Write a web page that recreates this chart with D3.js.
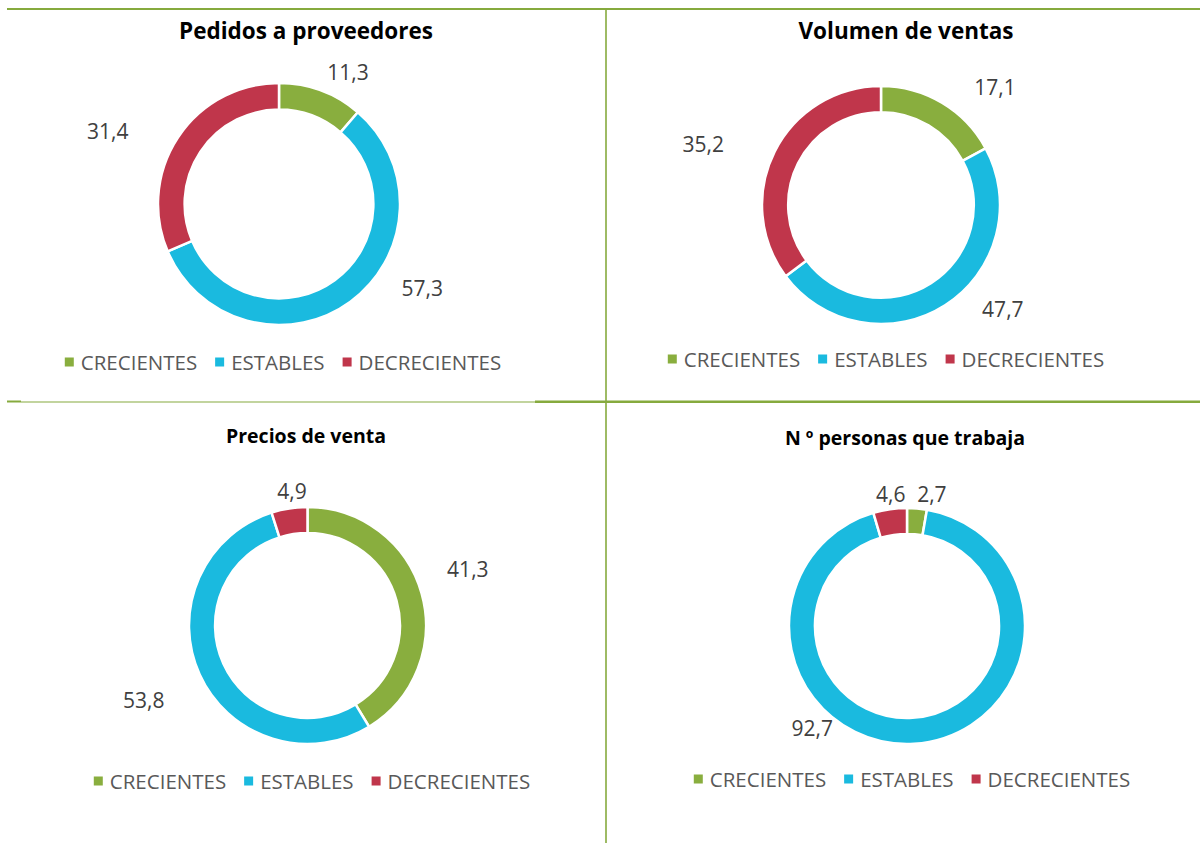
<!DOCTYPE html>
<html>
<head>
<meta charset="utf-8">
<script src="https://cdn.jsdelivr.net/npm/d3@7"></script>
<style>
  body { margin: 0; background: #fff; }
  text { font-family: "Open Sans", "Noto Sans", sans-serif; }
</style>
</head>
<body>
<script>
// data
const categories = ["CRECIENTES", "ESTABLES", "DECRECIENTES"];
const titles = ["Pedidos a proveedores", "Volumen de ventas", "Precios de venta", "N º personas que trabaja"];
const pedidos = [11.3, 57.3, 31.4];
const volumen = [17.1, 47.7, 35.2];
const precios = [41.3, 53.8, 4.9];
const personas = [2.7, 92.7, 4.6];

const colors = ["#89AE3E", "#1ABADF", "#C0364B"];
const lineColor = "#86AA3E";

const width = 1200, height = 843;

// layout of each panel (label spots are [angle in degrees, distance from centre])
const panels = [
  { values: pedidos, cx: 279, cy: 204, r: 121, tx: 306, ty: 30, ts: 22.5, lx: 283, ly: 362,
    spots: [[27.6, 149], [120.4, 166], [293, 186]] },
  { values: volumen, cx: 881, cy: 205, r: 119, tx: 906, ty: 30, ts: 22.5, lx: 886, ly: 359,
    spots: [[44, 164], [130.4, 160], [289, 188]] },
  { values: precios, cx: 307.5, cy: 625.5, r: 118.5, tx: 306, ty: 435, ts: 19.5, lx: 312, ly: 781,
    spots: [[70.6, 170], [245.5, 180], [353.4, 135]] },
  { values: personas, cx: 907, cy: 626, r: 118, tx: 905, ty: 437, ts: 19.5, lx: 912, ly: 779,
    spots: [[10.7, 134], [223, 139], [353, 133]] }
];

const svg = d3.select("body")
  .append("svg")
  .attr("width", width)
  .attr("height", height);

// frame lines
svg.append("line")
  .attr("x1", 7).attr("x2", width).attr("y1", 9).attr("y2", 9)
  .attr("stroke", lineColor).attr("stroke-width", 2);
svg.append("line")
  .attr("x1", 606).attr("x2", 606).attr("y1", 9).attr("y2", height)
  .attr("stroke", lineColor).attr("stroke-width", 1.6);
svg.append("line")
  .attr("x1", 7).attr("x2", 21).attr("y1", 401.5).attr("y2", 401.5)
  .attr("stroke", lineColor).attr("stroke-width", 2);
svg.append("line")
  .attr("x1", 21).attr("x2", 535).attr("y1", 402).attr("y2", 402)
  .attr("stroke", lineColor).attr("stroke-width", 1.2);
svg.append("line")
  .attr("x1", 535).attr("x2", width).attr("y1", 401.8).attr("y2", 401.8)
  .attr("stroke", lineColor).attr("stroke-width", 2.4);

const pie = d3.pie().sort(null).value(d => d);

panels.forEach((p, i) => {
  const g = svg.append("g").attr("transform", `translate(${p.cx},${p.cy})`);

  const arc = d3.arc().innerRadius(p.r * 0.78).outerRadius(p.r);
  const arcs = pie(p.values);

  g.selectAll("path")
    .data(arcs)
    .join("path")
    .attr("d", arc)
    .attr("fill", (d, j) => colors[j])
    .attr("stroke", "#fff")
    .attr("stroke-width", 2.5);

  // value labels
  g.selectAll("text.val")
    .data(arcs)
    .join("text")
    .attr("class", "val")
    .attr("transform", (d, j) => {
      const s = p.spots[j];
      const a = s[0] * Math.PI / 180;
      const c = d3.arc().innerRadius(s[1]).outerRadius(s[1]).centroid({ startAngle: a, endAngle: a });
      return `translate(${c[0]},${c[1]})`;
    })
    .attr("text-anchor", "middle")
    .attr("dominant-baseline", "central")
    .attr("fill", "#404040")
    .style("font-size", "21px")
    .text(d => d3.format(".1f")(d.data).replace(".", ","));

  // title
  svg.append("text")
    .attr("x", p.tx)
    .attr("y", p.ty)
    .attr("text-anchor", "middle")
    .attr("dominant-baseline", "central")
    .attr("fill", "#000")
    .style("font-size", p.ts + "px")
    .style("font-weight", "bold")
    .text(titles[i]);

  // legend
  const leg = svg.append("g");
  let x = 0;
  categories.forEach((c, j) => {
    leg.append("rect")
      .attr("x", x).attr("y", p.ly - 4.5)
      .attr("width", 9).attr("height", 9)
      .attr("fill", colors[j]);
    const t = leg.append("text")
      .attr("x", x + 16)
      .attr("y", p.ly)
      .attr("dominant-baseline", "central")
      .attr("fill", "#595959")
      .style("font-size", "20.5px")
      .text(c);
    x += 16 + t.node().getComputedTextLength() + 18;
  });
  const legW = x - 18;
  leg.attr("transform", `translate(${p.lx - legW / 2},0)`);
});
</script>
</body>
</html>
